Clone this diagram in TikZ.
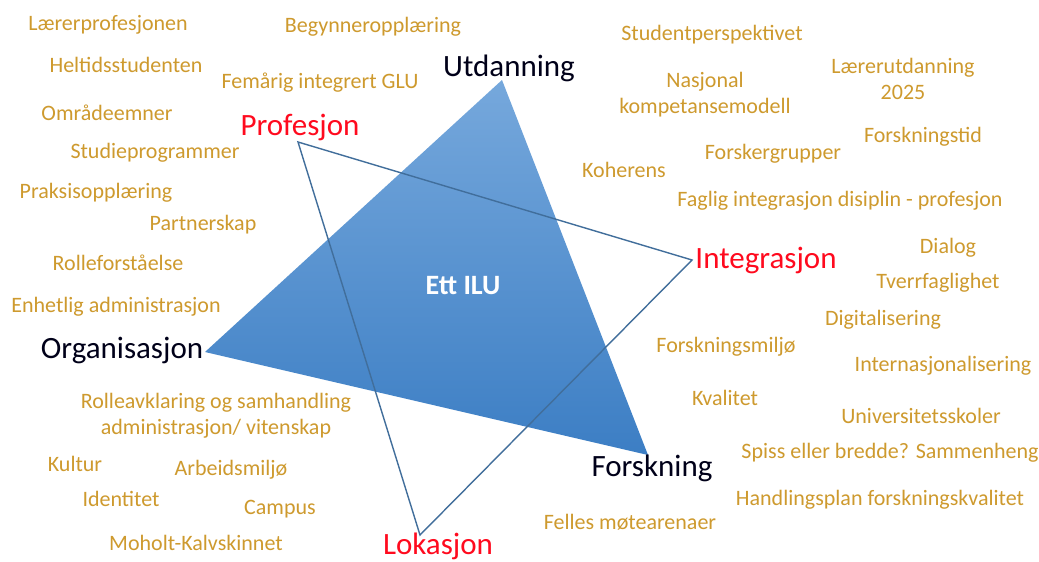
\documentclass[tikz,border=0pt]{standalone}
\usepackage{fontspec}
\setmainfont{Carlito}
\definecolor{goud}{RGB}{206,154,46}
\definecolor{rood}{RGB}{255,10,30}
\definecolor{lijn}{RGB}{65,110,155}
\definecolor{blauwtop}{RGB}{118,168,220}
\definecolor{blauwbodem}{RGB}{60,126,196}
\tikzset{
  tema/.style={text=goud, font=\fontsize{22}{26}\selectfont, align=center, inner sep=0pt},
  hoek/.style={text=black!90!blue, font=\fontsize{31}{34}\selectfont, inner sep=0pt},
  pijler/.style={text=rood, font=\fontsize{31}{34}\selectfont, inner sep=0pt},
}
\begin{document}
\begin{tikzpicture}[x=1pt,y=-1pt]
\useasboundingbox[fill=white] (0,0) rectangle (1039,562);
%blue triangle
\coordinate (u) at (502,80); \coordinate (o) at (205,352); \coordinate (f) at (648,455);
\shade[top color=blauwtop, bottom color=blauwbodem, shading angle=0] (u) -- (o) -- (f) -- cycle;
%open triangle
\coordinate (p) at (298,142); \coordinate (i) at (692,260); \coordinate (l) at (420,535);
\draw[lijn, line width=1.4pt, line join=miter] (p) -- (i) -- (l) -- cycle;

\node[text=white, font=\bfseries\fontsize{28}{32}\selectfont] (ilu) at (463,286) {Ett ILU};

%corners
\node[hoek] (utd) at (509,68) {Utdanning};
\node[hoek] (org) at (122,350) {Organisasjon};
\node[hoek] (fors) at (652,468) {Forskning};
\node[pijler] (prof) at (300,127) {Profesjon};
\node[pijler] (integ) at (766,260) {Integrasjon};
\node[pijler] (lok) at (438,546) {Lokasjon};

%left side
\node[tema] (t1) at (108,25) {Lærerprofesjonen};
\node[tema] (t2) at (126,65) {Heltidsstudenten};
\node[tema] (t3) at (107,113) {Områdeemner};
\node[tema] (t4) at (155,153) {Studieprogrammer};
\node[tema] (t5) at (96,193) {Praksisopplæring};
\node[tema] (t6) at (203,225) {Partnerskap};
\node[tema] (t7) at (118,263) {Rolleforståelse};
\node[tema] (t8) at (116,307) {Enhetlig administrasjon};
%top
\node[tema] (t9) at (373,27) {Begynneropplæring};
\node[tema] (t10) at (320,83) {Femårig integrert GLU};
%bottom left
\node[tema] (t11) at (216,416) {Rolleavklaring og samhandling\\administrasjon/ vitenskap};
\node[tema] (t12) at (75,464) {Kultur};
\node[tema] (t13) at (231,470) {Arbeidsmiljø};
\node[tema] (t14) at (121,499) {Identitet};
\node[tema] (t15) at (280,509) {Campus};
\node[tema] (t16) at (196,543) {Moholt-Kalvskinnet};
%right top
\node[tema] (t17) at (712,35) {Studentperspektivet};
\node[tema] (t18) at (705,95) {Nasjonal\\kompetansemodell};
\node[tema] (t19) at (903,79) {Lærerutdanning\\2025};
\node[tema] (t20) at (923,137) {Forskningstid};
\node[tema] (t21) at (773,154) {Forskergrupper};
\node[tema] (t22) at (624,170) {Koherens};
\node[tema] (t23) at (840,201) {Faglig integrasjon disiplin - profesjon};
%right
\node[tema] (t24) at (948,248) {Dialog};
\node[tema] (t25) at (938,283) {Tverrfaglighet};
\node[tema] (t26) at (883,320) {Digitalisering};
\node[tema] (t27) at (726,347) {Forskningsmiljø};
\node[tema] (t28) at (943,366) {Internasjonalisering};
%bottom right
\node[tema] (t29) at (725,398) {Kvalitet};
\node[tema] (t30) at (921,416) {Universitetsskoler};
\node[tema] (t31) at (890,453) {Spiss eller bredde? Sammenheng};
\node[tema] (t32) at (880,500) {Handlingsplan forskningskvalitet};
\node[tema] (t33) at (630,522) {Felles møtearenaer};
\end{tikzpicture}
\end{document}
